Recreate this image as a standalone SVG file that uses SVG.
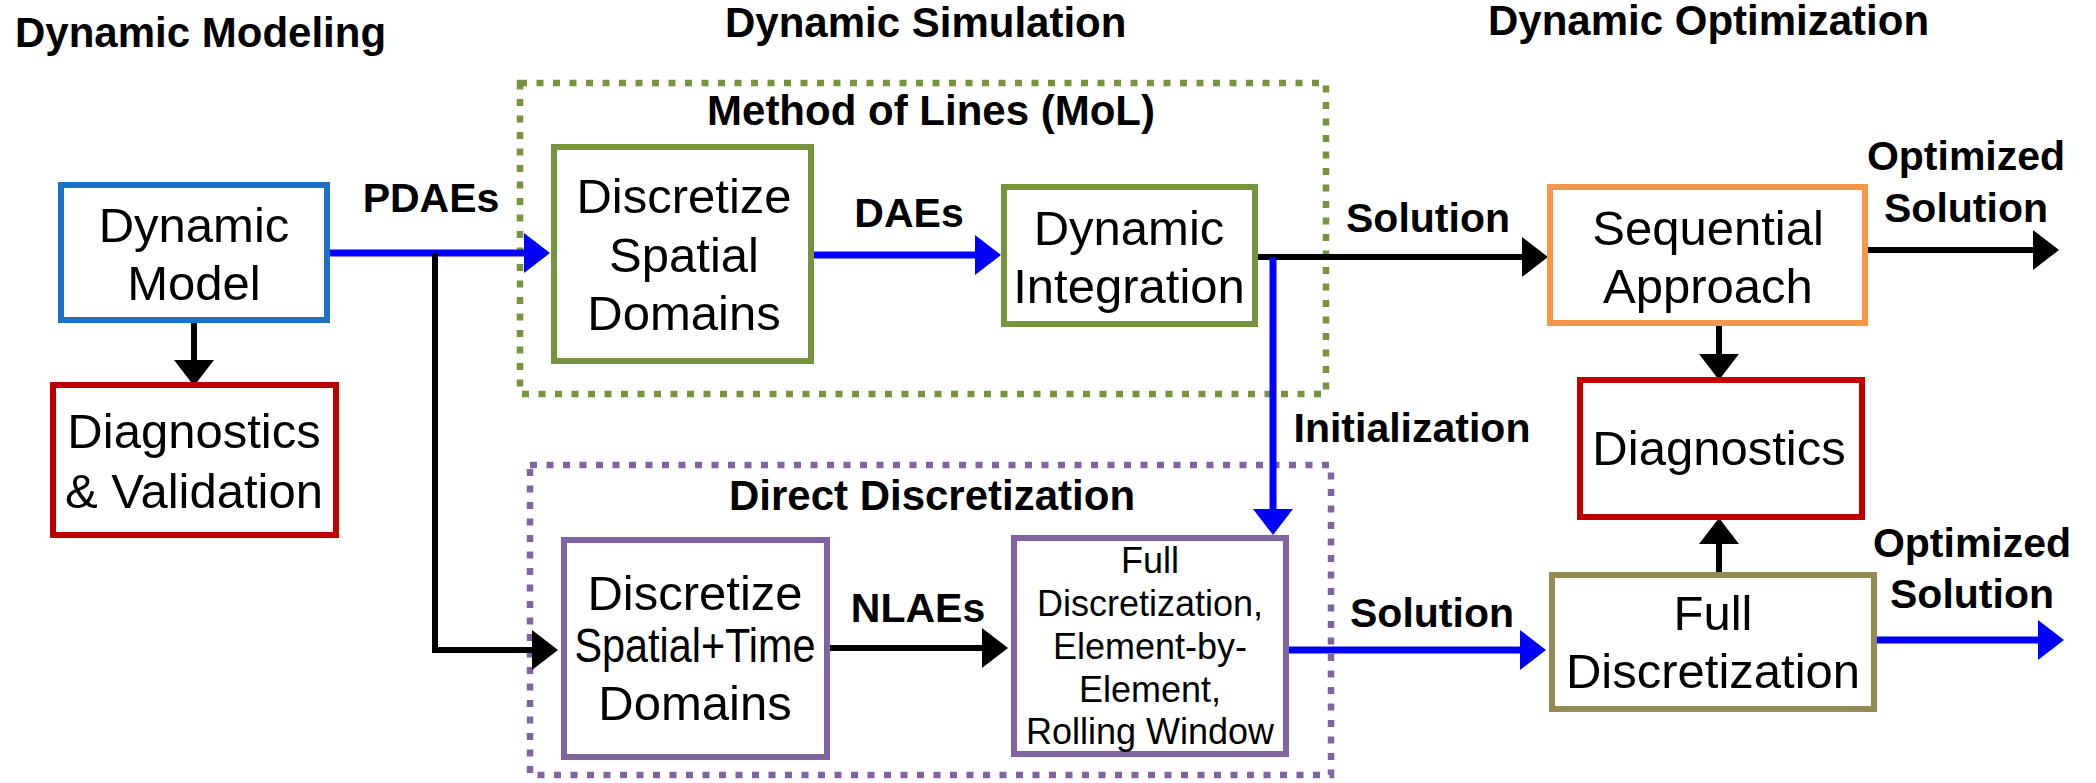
<svg xmlns="http://www.w3.org/2000/svg" width="2096" height="783" viewBox="0 0 2096 783">
<style>
text{font-family:"Liberation Sans",Arial,sans-serif;fill:#000}
.h{font-size:42px;font-weight:bold}
.l{font-size:41px;font-weight:bold;text-anchor:middle}
.b{font-size:49px;text-anchor:middle}
.s{font-size:36px;text-anchor:middle}
.box{fill:#fff;stroke-width:6}
.grp{fill:none;stroke-width:6.5;stroke-dasharray:7 9.5}
.kl{fill:none;stroke:#000;stroke-width:6}
.bl{fill:none;stroke:#0000ff;stroke-width:7}
</style>
<defs>
<marker id="ak" markerUnits="userSpaceOnUse" markerWidth="26" markerHeight="40" refX="1" refY="20" orient="auto" overflow="visible"><path d="M0,0 L26,20 L0,40 z" fill="#000"/></marker>
<marker id="ab" markerUnits="userSpaceOnUse" markerWidth="26" markerHeight="40" refX="1" refY="20" orient="auto" overflow="visible"><path d="M0,0 L26,20 L0,40 z" fill="#0000ff"/></marker>
</defs>
<rect width="2096" height="783" fill="#fff"/>

<g id="headers">
<text class="h" x="15" y="47">Dynamic Modeling</text>
<text class="h" x="725" y="37">Dynamic Simulation</text>
<text class="h" x="1488" y="35">Dynamic Optimization</text>
</g>

<g id="group-mol">
<rect class="grp" x="520" y="83" width="806" height="311" stroke="#77933c"/>
<text class="h" x="931" y="125" text-anchor="middle">Method of Lines (MoL)</text>
</g>
<g id="group-direct">
<rect class="grp" x="530" y="465" width="801" height="310" stroke="#8064a2"/>
<text class="h" x="932" y="510" text-anchor="middle">Direct Discretization</text>
</g>

<g id="connectors">
<line class="bl" x1="330" y1="253" x2="525" y2="253" marker-end="url(#ab)"/>
<path class="kl" d="M435,253 V650 H533" marker-end="url(#ak)"/>
<line class="kl" x1="194" y1="323" x2="194" y2="361" marker-end="url(#ak)"/>
<line class="bl" x1="814" y1="255" x2="976" y2="255" marker-end="url(#ab)"/>
<line class="kl" x1="1258" y1="257" x2="1523" y2="257" marker-end="url(#ak)"/>
<line class="bl" x1="1273" y1="257" x2="1273" y2="510" marker-end="url(#ab)"/>
<line class="kl" x1="830" y1="648" x2="983" y2="648" marker-end="url(#ak)"/>
<line class="bl" x1="1289" y1="650" x2="1521" y2="650" marker-end="url(#ab)"/>
<line class="kl" x1="1868" y1="250" x2="2034" y2="250" marker-end="url(#ak)"/>
<line class="kl" x1="1719" y1="326" x2="1719" y2="355" marker-end="url(#ak)"/>
<line class="kl" x1="1719" y1="572" x2="1719" y2="543" marker-end="url(#ak)"/>
<line class="bl" x1="1877" y1="640" x2="2039" y2="640" marker-end="url(#ab)"/>
<text class="l" x="431" y="212">PDAEs</text>
<text class="l" x="909" y="227">DAEs</text>
<text class="l" x="1428" y="232">Solution</text>
<text class="l" x="1412" y="442">Initialization</text>
<text class="l" x="918" y="622">NLAEs</text>
<text class="l" x="1432" y="627">Solution</text>
<text class="l" x="1966" y="170">Optimized</text>
<text class="l" x="1966" y="222">Solution</text>
<text class="l" x="1972" y="557">Optimized</text>
<text class="l" x="1972" y="608">Solution</text>
</g>

<g id="node-dynamic-model">
<rect class="box" x="61" y="185" width="266" height="135" stroke="#1a72c4"/>
<text class="b" x="194" y="242">Dynamic</text>
<text class="b" x="194" y="300">Model</text>
</g>
<g id="node-diag-validation">
<rect class="box" x="53" y="385" width="283" height="150" stroke="#c00000"/>
<text class="b" x="194" y="448">Diagnostics</text>
<text class="b" x="194" y="508">&amp; Validation</text>
</g>
<g id="node-discretize-spatial">
<rect class="box" x="554" y="147" width="257" height="214" stroke="#77933c"/>
<text class="b" x="684" y="213">Discretize</text>
<text class="b" x="684" y="272">Spatial</text>
<text class="b" x="684" y="330">Domains</text>
</g>
<g id="node-dynamic-integration">
<rect class="box" x="1004" y="187" width="251" height="137" stroke="#77933c"/>
<text class="b" x="1129" y="245">Dynamic</text>
<text class="b" x="1129" y="303">Integration</text>
</g>
<g id="node-discretize-spacetime">
<rect class="box" x="564" y="540" width="263" height="217" stroke="#8064a2"/>
<text class="b" x="695" y="610">Discretize</text>
<text class="b" x="695" y="662" textLength="241" lengthAdjust="spacingAndGlyphs">Spatial+Time</text>
<text class="b" x="695" y="720">Domains</text>
</g>
<g id="node-full-disc-methods">
<rect class="box" x="1014" y="538" width="272" height="216" stroke="#8064a2"/>
<text class="s" x="1150" y="573">Full</text>
<text class="s" x="1150" y="616">Discretization,</text>
<text class="s" x="1150" y="659">Element-by-</text>
<text class="s" x="1150" y="702">Element,</text>
<text class="s" x="1150" y="744">Rolling Window</text>
</g>
<g id="node-sequential">
<rect class="box" x="1550" y="187" width="315" height="136" stroke="#f79646"/>
<text class="b" x="1708" y="245">Sequential</text>
<text class="b" x="1708" y="303">Approach</text>
</g>
<g id="node-diagnostics">
<rect class="box" x="1580" y="380" width="282" height="137" stroke="#c00000"/>
<text class="b" x="1719" y="465">Diagnostics</text>
</g>
<g id="node-full-discretization">
<rect class="box" x="1552" y="575" width="322" height="134" stroke="#948a54"/>
<text class="b" x="1713" y="630">Full</text>
<text class="b" x="1713" y="688">Discretization</text>
</g>
</svg>
